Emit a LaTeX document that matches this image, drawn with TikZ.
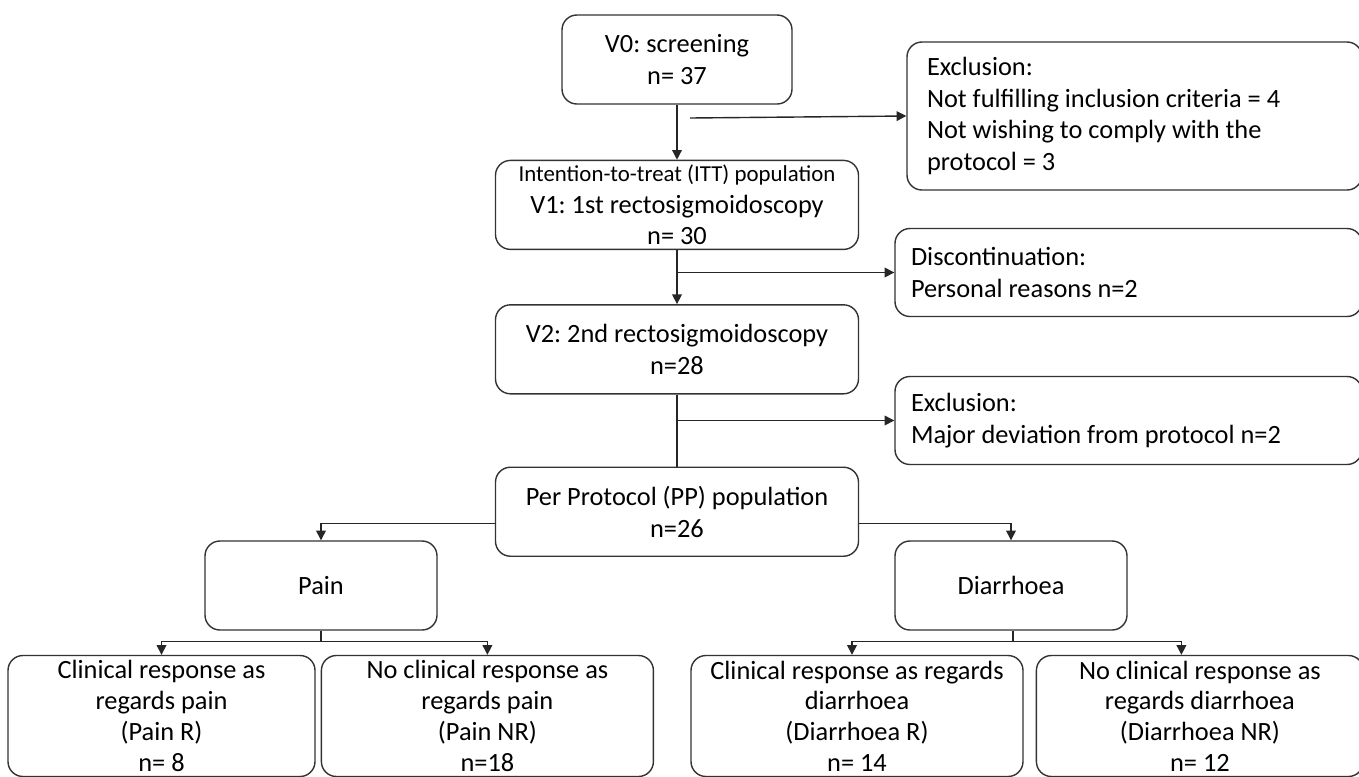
\documentclass[tikz,border=0pt]{standalone}
\usepackage{fontspec}
\setmainfont{Carlito}
\usetikzlibrary{arrows.meta, positioning, calc}
\definecolor{boxborder}{HTML}{333333}
\definecolor{flowline}{HTML}{262626}
\frenchspacing

\begin{document}
\begin{tikzpicture}[
      visit/.style={draw=boxborder, thick, rounded corners=8.5pt, fill=white,
        align=center, inner sep=2pt, minimum width=7.26cm, minimum height=1.78cm,
        font=\fontsize{15}{18}\selectfont},
      reason/.style={visit, align=flush left, minimum height=1.76cm},
      outcome/.style={visit, minimum height=2.42cm, inner sep=1pt,
        font=\fontsize{15}{17.5}\selectfont},
      >={Triangle[length=5.5pt, width=5.5pt]}
    ]
      \useasboundingbox (0,0) rectangle (27.18,-15.52);
      \node[visit, minimum width=4.6cm] at (13.54,-1.19) (v0) {V0: screening\\n= 37};
      \node[visit, below=1.1cm of v0] (itt)
        {{\fontsize{13}{15}\selectfont Intention-to-treat (ITT) population}\\V1: 1st rectosigmoidoscopy\\n= 30};
      \node[visit, below=1.08cm of itt] (v2) {V2: 2nd rectosigmoidoscopy\\n=28};
      \node[visit, below=1.44cm of v2] (pp) {Per Protocol (PP) population\\n=26};
      \node[reason, text width=8.3cm, inner xsep=0.4cm, minimum height=2.96cm]
        at (22.69,-2.32) (excl1)
        {Exclusion:\\Not fulfilling inclusion criteria = 4\\Not wishing to comply with the\\protocol = 3};
      \node[reason, text width=8.7cm, inner xsep=0.32cm] at (22.57,-5.45) (disc)
        {Discontinuation:\\Personal reasons n=2};
      \node[reason, text width=8.7cm, inner xsep=0.32cm] at (22.57,-8.41) (excl2)
        {Exclusion:\\Major deviation from protocol n=2};
      \node[visit, minimum width=4.64cm] at (6.42,-11.71) (pain) {Pain};
      \node[visit, minimum width=4.64cm] at (20.22,-11.71) (diar) {Diarrhoea};
      \node[outcome, minimum width=6.14cm] at (3.23,-14.32) (painr)
        {Clinical response as\\regards pain\\(Pain R)\\n= 8};
      \node[outcome, minimum width=6.64cm, right=0.1cm of painr] (painnr)
        {No clinical response as\\regards pain\\(Pain NR)\\n=18};
      \node[outcome, minimum width=6.64cm] at (17.14,-14.32) (diarr)
        {Clinical response as regards\\diarrhoea\\(Diarrhoea R)\\n= 14};
      \node[outcome, minimum width=6.54cm, right=0.24cm of diarr] (diarnr)
        {No clinical response as\\regards diarrhoea\\(Diarrhoea NR)\\n= 12};
      % main column
      \coordinate (excl1from) at (13.8,-2.36);
      \draw[->, thick, flowline] (v0) -- (itt);
      \draw[->, thick, flowline] (excl1from) -- (excl1.west);
      \draw[->, thick, flowline] (itt) -- (v2);
      \draw[->, thick, flowline] (itt.south |- disc.west) -- (disc.west);
      \draw[thick, flowline] (v2) -- (pp);
      \draw[->, thick, flowline] (v2.south |- excl2.west) -- (excl2.west);
      % split into pain and diarrhoea
      \draw[->, thick, flowline] ([yshift=-0.24cm]pp.west) -| (pain);
      \draw[->, thick, flowline] ([yshift=-0.24cm]pp.east) -| (diar);
      \draw[thick, flowline] (pain.south) -- ++(0,-0.22) coordinate (painsplit);
      \draw[->, thick, flowline] (painsplit) -| (painr);
      \draw[->, thick, flowline] (painsplit) -| (painnr);
      \draw[thick, flowline] ([xshift=0.04cm]diar.south) -- ++(0,-0.22) coordinate (diarsplit);
      \draw[->, thick, flowline] (diarsplit) -| ([xshift=-0.1cm]diarr.north);
      \draw[->, thick, flowline] (diarsplit) -| ([xshift=-0.37cm]diarnr.north);
    \end{tikzpicture}
\end{document}
